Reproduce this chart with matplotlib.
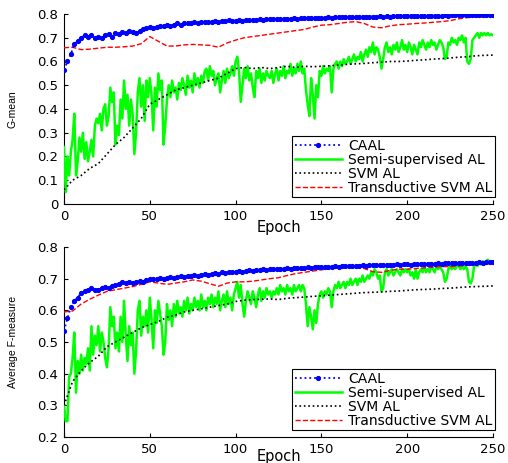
import matplotlib
matplotlib.use("Agg")
import matplotlib.pyplot as plt

plt.rcParams['font.family'] = ['DejaVu Sans']

# ---------------- data ----------------
epochs_all = list(range(0, 251))
epochs_2 = list(range(0, 251, 2))
epochs_5 = list(range(0, 251, 5))

labels = ["CAAL", "Semi-supervised AL", "SVM AL", "Transductive SVM AL"]

# Top panel: G-mean
gm_caal = [
    0.565, 0.60, 0.63, 0.675, 0.685, 0.70, 0.71, 0.705, 0.71, 0.70,
    0.705, 0.70, 0.71, 0.715, 0.705, 0.72, 0.715, 0.725, 0.72, 0.73,
    0.725, 0.72, 0.73, 0.735, 0.74, 0.745, 0.74, 0.745, 0.75, 0.75,
    0.755, 0.75, 0.755, 0.76, 0.755, 0.76, 0.76, 0.762, 0.765, 0.76,
    0.765, 0.765, 0.768, 0.765, 0.77, 0.768, 0.77, 0.772, 0.775, 0.772,
    0.772, 0.775, 0.772, 0.775, 0.773, 0.776, 0.775, 0.777, 0.776, 0.778,
    0.777, 0.778, 0.78, 0.778, 0.78, 0.781, 0.78, 0.782, 0.781, 0.782,
    0.783, 0.782, 0.784, 0.783, 0.784, 0.785, 0.784, 0.786, 0.785, 0.786,
    0.786, 0.787, 0.786, 0.788, 0.787, 0.788, 0.787, 0.789, 0.788, 0.789,
    0.789, 0.788, 0.79, 0.789, 0.79, 0.789, 0.79, 0.791, 0.79, 0.791,
    0.791, 0.79, 0.792, 0.791, 0.792, 0.791, 0.793, 0.792, 0.793, 0.792,
    0.793, 0.794, 0.793, 0.794, 0.795, 0.794, 0.795, 0.796, 0.795, 0.796,
    0.796, 0.795, 0.797, 0.796, 0.797, 0.797,
]
gm_semi = [
    0.24, 0.05, 0.20, 0.12, 0.22, 0.27, 0.38, 0.12, 0.18, 0.28,
    0.22, 0.30, 0.19, 0.26, 0.18, 0.22, 0.27, 0.20, 0.33, 0.36,
    0.34, 0.38, 0.31, 0.40, 0.42, 0.33, 0.37, 0.49, 0.43, 0.47,
    0.25, 0.33, 0.29, 0.44, 0.36, 0.52, 0.40, 0.46, 0.33, 0.44,
    0.38, 0.21, 0.30, 0.47, 0.53, 0.41, 0.50, 0.35, 0.52, 0.45,
    0.53, 0.46, 0.31, 0.49, 0.41, 0.55, 0.48, 0.52, 0.25, 0.33,
    0.44, 0.50, 0.45, 0.52, 0.47, 0.49, 0.44, 0.51, 0.48, 0.53,
    0.50, 0.46, 0.54, 0.49, 0.52, 0.47, 0.55, 0.50, 0.53, 0.49,
    0.54, 0.51, 0.56, 0.57, 0.52, 0.58, 0.54, 0.56, 0.50, 0.53,
    0.55, 0.47, 0.52, 0.56, 0.51, 0.57, 0.53, 0.55, 0.58, 0.54,
    0.60, 0.62, 0.56, 0.43, 0.50, 0.57, 0.53, 0.58, 0.52, 0.55,
    0.49, 0.45, 0.56, 0.53, 0.57, 0.51, 0.55, 0.52, 0.56, 0.54,
    0.53, 0.56, 0.51, 0.55, 0.57, 0.52, 0.56, 0.54, 0.58, 0.53,
    0.56, 0.55, 0.59, 0.54, 0.57, 0.55, 0.59, 0.56, 0.60, 0.55,
    0.57, 0.48, 0.42, 0.37, 0.53, 0.46, 0.36, 0.50, 0.45, 0.56,
    0.54, 0.58, 0.55, 0.57, 0.56, 0.58, 0.47, 0.57, 0.59, 0.60,
    0.57, 0.60, 0.58, 0.61, 0.59, 0.60, 0.62, 0.59, 0.61, 0.63,
    0.60, 0.62, 0.61, 0.64, 0.60, 0.63, 0.65, 0.62, 0.66, 0.64,
    0.68, 0.63, 0.66, 0.65, 0.62, 0.57, 0.61, 0.66, 0.68, 0.64,
    0.66, 0.63, 0.67, 0.65, 0.68, 0.64, 0.66, 0.69, 0.65, 0.67,
    0.64, 0.68, 0.66, 0.63, 0.67, 0.65, 0.63, 0.68, 0.66, 0.69,
    0.67, 0.65, 0.68, 0.66, 0.69, 0.67, 0.68, 0.65, 0.67, 0.69,
    0.68, 0.66, 0.61, 0.62, 0.68, 0.67, 0.70, 0.68, 0.69, 0.67,
    0.70, 0.69, 0.71, 0.68, 0.70, 0.60, 0.59, 0.61, 0.69, 0.70,
    0.71, 0.72, 0.70, 0.72, 0.71, 0.72, 0.71, 0.72, 0.71, 0.715, 0.71,
]
gm_svm = [
    0.06, 0.10, 0.12, 0.15, 0.17, 0.21, 0.25, 0.28, 0.32, 0.36,
    0.42, 0.44, 0.46, 0.48, 0.49, 0.50, 0.51, 0.52, 0.53, 0.55,
    0.57, 0.575, 0.57, 0.575, 0.57, 0.575, 0.58, 0.575, 0.58, 0.578,
    0.58, 0.582, 0.585, 0.588, 0.59, 0.592, 0.595, 0.597, 0.60, 0.60,
    0.602, 0.605, 0.607, 0.61, 0.612, 0.615, 0.618, 0.62, 0.624, 0.626,
    0.627,
]
gm_tsvm = [
    0.658, 0.66, 0.65, 0.652, 0.656, 0.66, 0.66, 0.662, 0.665, 0.675,
    0.705, 0.685, 0.665, 0.665, 0.67, 0.672, 0.67, 0.668, 0.66, 0.678,
    0.69, 0.70, 0.705, 0.71, 0.715, 0.72, 0.725, 0.73, 0.735, 0.745,
    0.753, 0.755, 0.76, 0.765, 0.768, 0.76, 0.745, 0.742, 0.75, 0.755,
    0.757, 0.76, 0.762, 0.765, 0.768, 0.772, 0.78, 0.785, 0.787, 0.788,
    0.79,
]

# Bottom panel: Average F-measure
fm_caal = [
    0.535, 0.575, 0.61, 0.63, 0.64, 0.655, 0.66, 0.665, 0.67, 0.665,
    0.665, 0.67, 0.675, 0.672, 0.678, 0.68, 0.683, 0.688, 0.685, 0.69,
    0.685, 0.688, 0.692, 0.69, 0.695, 0.70, 0.698, 0.70, 0.702, 0.70,
    0.703, 0.705, 0.703, 0.706, 0.708, 0.706, 0.71, 0.708, 0.712, 0.71,
    0.713, 0.715, 0.713, 0.716, 0.718, 0.716, 0.72, 0.718, 0.721, 0.72,
    0.722, 0.724, 0.722, 0.725, 0.727, 0.725, 0.728, 0.727, 0.73, 0.728,
    0.73, 0.731, 0.73, 0.732, 0.731, 0.733, 0.732, 0.734, 0.733, 0.735,
    0.734, 0.736, 0.735, 0.736, 0.737, 0.736, 0.738, 0.737, 0.738, 0.739,
    0.738, 0.739, 0.74, 0.739, 0.741, 0.74, 0.741, 0.742, 0.741, 0.742,
    0.742, 0.743, 0.742, 0.743, 0.744, 0.743, 0.744, 0.745, 0.744, 0.745,
    0.745, 0.744, 0.746, 0.745, 0.746, 0.747, 0.746, 0.747, 0.746, 0.748,
    0.747, 0.748, 0.749, 0.748, 0.749, 0.75, 0.749, 0.75, 0.751, 0.75,
    0.751, 0.752, 0.751, 0.752, 0.753, 0.752,
]
fm_semi = [
    0.30, 0.25, 0.25, 0.39, 0.40, 0.45, 0.53, 0.34, 0.44, 0.40,
    0.46, 0.41, 0.45, 0.43, 0.48, 0.41, 0.55, 0.46, 0.52, 0.49,
    0.55, 0.47, 0.53, 0.50, 0.45, 0.42, 0.48, 0.61, 0.55, 0.58,
    0.48, 0.53, 0.47, 0.58, 0.50, 0.63, 0.52, 0.44, 0.55, 0.49,
    0.53, 0.40, 0.47, 0.60, 0.63, 0.52, 0.58, 0.55, 0.60, 0.53,
    0.64, 0.57, 0.48, 0.60, 0.56, 0.63, 0.59, 0.55, 0.46, 0.50,
    0.62, 0.57, 0.60, 0.55, 0.62, 0.58, 0.63, 0.59, 0.61, 0.58,
    0.63, 0.60, 0.64, 0.59, 0.62, 0.60, 0.64, 0.61, 0.63, 0.60,
    0.65, 0.61, 0.63, 0.60, 0.64, 0.62, 0.65, 0.61, 0.64, 0.62,
    0.66, 0.60, 0.63, 0.65, 0.61, 0.66, 0.62, 0.64, 0.60, 0.65,
    0.67, 0.69, 0.64, 0.68, 0.62, 0.58, 0.63, 0.66, 0.64, 0.62,
    0.66, 0.64, 0.61, 0.65, 0.67, 0.63, 0.66, 0.64, 0.67, 0.65,
    0.66, 0.64, 0.66, 0.65, 0.67, 0.65, 0.68, 0.66, 0.67, 0.65,
    0.68, 0.66, 0.67, 0.65, 0.68, 0.66, 0.67, 0.68, 0.66, 0.68,
    0.67, 0.62, 0.55, 0.61, 0.58, 0.54, 0.60, 0.56, 0.62, 0.65,
    0.66, 0.64, 0.66, 0.65, 0.67, 0.66, 0.61, 0.66, 0.68, 0.67,
    0.69, 0.67, 0.68, 0.69, 0.67, 0.69, 0.68, 0.70, 0.68, 0.69,
    0.70, 0.68, 0.70, 0.69, 0.71, 0.69, 0.70, 0.71, 0.70, 0.72,
    0.71, 0.73, 0.72, 0.70, 0.71, 0.66, 0.67, 0.72, 0.73, 0.71,
    0.72, 0.73, 0.71, 0.72, 0.73, 0.72, 0.71, 0.73, 0.72, 0.73,
    0.72, 0.73, 0.71, 0.72, 0.70, 0.73, 0.70, 0.72, 0.73, 0.72,
    0.74, 0.72, 0.73, 0.72, 0.74, 0.73, 0.72, 0.74, 0.73, 0.74,
    0.73, 0.72, 0.69, 0.70, 0.73, 0.74, 0.73, 0.74, 0.73, 0.74,
    0.74, 0.73, 0.74, 0.73, 0.74, 0.73, 0.69, 0.685, 0.70, 0.74,
    0.745, 0.74, 0.75, 0.745, 0.755, 0.75, 0.755, 0.76, 0.75, 0.755, 0.75,
]
fm_svm = [
    0.30, 0.375, 0.41, 0.435, 0.455, 0.485, 0.50, 0.515, 0.53, 0.545,
    0.555, 0.565, 0.578, 0.585, 0.595, 0.60, 0.605, 0.61, 0.615, 0.62,
    0.628, 0.632, 0.634, 0.635, 0.636, 0.634, 0.638, 0.64, 0.642, 0.644,
    0.646, 0.648, 0.65, 0.652, 0.654, 0.656, 0.657, 0.658, 0.66, 0.661,
    0.663, 0.665, 0.666, 0.667, 0.669, 0.67, 0.672, 0.674, 0.675, 0.676,
    0.677,
]
fm_tsvm = [
    0.595, 0.598, 0.62, 0.635, 0.648, 0.66, 0.665, 0.67, 0.675, 0.682,
    0.69, 0.686, 0.682, 0.686, 0.69, 0.696, 0.692, 0.684, 0.676, 0.686,
    0.69, 0.69, 0.692, 0.696, 0.70, 0.703, 0.71, 0.716, 0.72, 0.724,
    0.728, 0.732, 0.736, 0.738, 0.738, 0.732, 0.722, 0.72, 0.726, 0.73,
    0.73, 0.732, 0.734, 0.736, 0.738, 0.738, 0.74, 0.742, 0.744, 0.746,
    0.748,
]

x_ticks = [0, 50, 100, 150, 200, 250]
gm_yticks = [0, 0.1, 0.2, 0.3, 0.4, 0.5, 0.6, 0.7, 0.8]
fm_yticks = [0.2, 0.3, 0.4, 0.5, 0.6, 0.7, 0.8]

# ---------------- figure ----------------
W, H = 508, 463
fig = plt.figure(figsize=(W / 100, H / 100), dpi=100)

def px_axes(x0, x1, ytop, ybot):
    return fig.add_axes([x0 / W, 1 - ybot / H, (x1 - x0) / W, (ybot - ytop) / H])

ax1 = px_axes(64, 493, 14, 204)
ax2 = px_axes(64, 493, 247, 437)

def draw(ax, caal, semi, svm, tsvm, ylim, yticks, ylabel, xlabelpad):
    ax.plot(epochs_2, caal, color='#0000ff', linestyle=':', linewidth=1.3,
            marker='.', markersize=5.5, label=labels[0], zorder=5)
    ax.plot(epochs_all, semi, color='#00ff00', linestyle='-', linewidth=1.8,
            label=labels[1], zorder=3)
    ax.plot(epochs_5, svm, color='black', linestyle=':', linewidth=1.2,
            label=labels[2], zorder=4)
    ax.plot(epochs_5, tsvm, color='#ff0000', linestyle='--', linewidth=1.0,
            label=labels[3], zorder=4)
    ax.set_xlim(0, 250)
    ax.set_ylim(*ylim)
    ax.set_xticks(x_ticks)
    ax.set_yticks(yticks)
    ax.set_yticklabels([("%g" % v) for v in yticks])
    ax.spines['top'].set_visible(False)
    ax.spines['right'].set_visible(False)
    ax.tick_params(direction='in', labelsize=9.5, length=3, pad=4)
    ax.set_xlabel('Epoch', fontsize=10.5, labelpad=xlabelpad)
    ax.set_ylabel(ylabel, fontsize=7.5, labelpad=14,
                  family=['Liberation Sans Narrow', 'Liberation Sans'])
    leg = ax.legend(loc='lower right', bbox_to_anchor=(1.005, 0.035),
                    borderaxespad=0, fontsize=10, frameon=True,
                    fancybox=False, edgecolor='black', framealpha=1,
                    handlelength=3.4, labelspacing=0.0, borderpad=0.2,
                    handletextpad=0.45)
    leg.get_frame().set_linewidth(0.8)

draw(ax1, gm_caal, gm_semi, gm_svm, gm_tsvm, (0, 0.8), gm_yticks, 'G-mean', -2)
draw(ax2, fm_caal, fm_semi, fm_svm, fm_tsvm, (0.2, 0.8), fm_yticks,
     'Average F-measure', -5)

fig.savefig('out.png', dpi=100)
